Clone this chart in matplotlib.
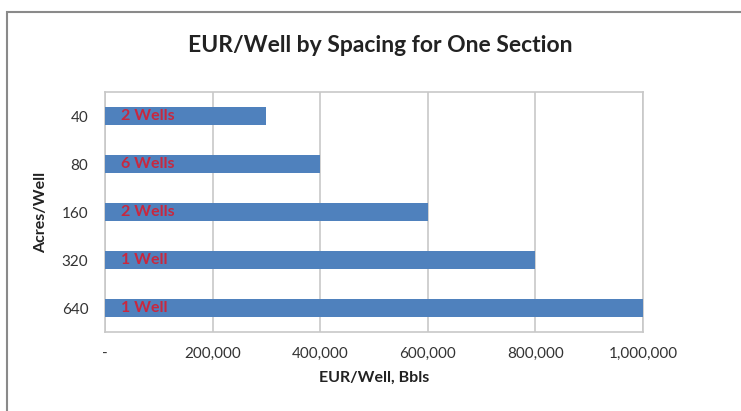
import matplotlib
matplotlib.use("Agg")
import matplotlib.pyplot as plt
from matplotlib.patches import Rectangle
from matplotlib.ticker import FuncFormatter

categories = ["40", "80", "160", "320", "640"]
eur_per_well = [300000, 400000, 600000, 800000, 1000000]
well_labels = ["2 Wells", "6 Wells", "2 Wells", "1 Well", "1 Well"]
x_ticks = [0, 200000, 400000, 600000, 800000, 1000000]

plt.rcParams['font.family'] = ['Lato', 'DejaVu Sans']

W, H = 741, 411
fig = plt.figure(figsize=(W / 100, H / 100), dpi=100)
ax = fig.add_axes([105 / W, 1 - 332 / H, (643 - 105) / W, (332 - 92) / H])

# outer chart frame
fig.patches.append(Rectangle((7 / W, -0.05), 1.2, 1 - 12 / H + 0.05, transform=fig.transFigure,
                             fill=False, edgecolor='#8a8a8a', linewidth=1.5))

y = list(range(len(categories)))
ax.barh(y, eur_per_well, height=0.38, color='#4F81BD', zorder=3)
for yi, lab in zip(y, well_labels):
    ax.text(16 / 538 * 1e6, yi, lab, color='#C8283F', fontsize=11.5, fontweight='bold',
            va='center', ha='left', zorder=4)

ax.set_xlim(0, 1000000)
ax.set_ylim(len(categories) - 0.5, -0.5)
ax.set_yticks(y)
ax.set_yticklabels(categories)
ax.set_xticks(x_ticks)
ax.xaxis.set_major_formatter(FuncFormatter(lambda v, p: '-' if v == 0 else f'{int(v):,}'))
ax.grid(axis='x', color='#c8c8c8', linewidth=1.2, zorder=0)
ax.tick_params(length=0, labelsize=11, colors='#333333')
ax.tick_params(axis='x', pad=11)
ax.tick_params(axis='y', pad=12)
for s in ax.spines.values():
    s.set_color('#c8c8c8')
    s.set_linewidth(1.2)

ax.set_xlabel('EUR/Well, Bbls', fontsize=11.5, fontweight='bold', labelpad=7, color='#222222')
ax.set_ylabel('Acres/Well', fontsize=11.5, fontweight='bold', labelpad=10, color='#222222')
fig.text(380 / W, 1 - 46 / H, 'EUR/Well by Spacing for One Section', ha='center', va='center',
         fontsize=16.5, fontweight='bold', color='#222222')

fig.savefig('out.png', dpi=100)
